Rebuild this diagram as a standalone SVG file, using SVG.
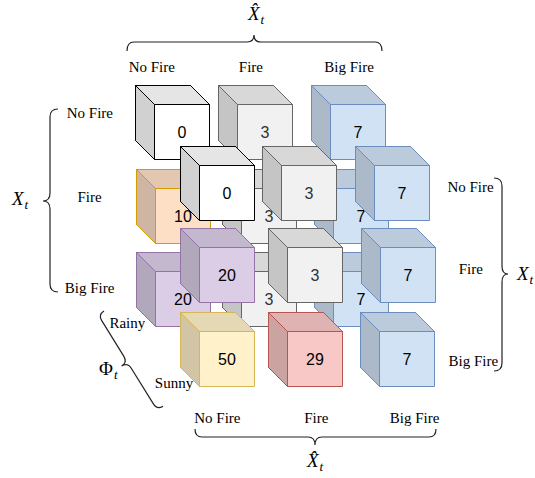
<svg xmlns="http://www.w3.org/2000/svg" xmlns:xlink="http://www.w3.org/1999/xlink" width="535" height="478" viewBox="0 0 535 478">
<style>
.lbl{font-family:"Liberation Serif","Times New Roman",serif;font-size:15px;fill:#000;text-anchor:middle}
.math{font-family:"Liberation Serif","Times New Roman",serif;font-size:19px;font-style:italic;fill:#000}
.math .sub{font-size:13px}
.up{font-style:normal}
.num{font-family:"Liberation Sans",Arial,sans-serif;font-size:16px;text-anchor:middle;fill:#000;stroke:none}
.brace{fill:none;stroke:#222;stroke-width:1.2}
.white{fill:#ffffff;stroke:#000000}
.grey{fill:#f0f1f0;stroke:#666666}
.grey .num{fill:#333333}
.blue{fill:#d2e2f5;stroke:#6c8ebf}
.orange{fill:#fddfc6;stroke:#d79b00}
.purple{fill:#dacde5;stroke:#9673a6}
.yellow{fill:#fff1ca;stroke:#d6b656}
.red{fill:#f8c8c6;stroke:#b85450}
</style>
<defs>
<g id="cube">
<path d="M0,0 H55 L74,19 V74 H19 L0,55 Z"/>
<path d="M0,0 H55 L74,19 H19 Z" fill="#000" fill-opacity="0.1"/>
<path d="M0,0 L19,19 V74 L0,55 Z" fill="#000" fill-opacity="0.18"/>
</g>
</defs>

<g id="back-layer">
<g id="back-nofire-nofire" class="white" transform="translate(135.5,85.5)"><use xlink:href="#cube" href="#cube"/><text class="num" x="46.5" y="52.5">0</text></g>
<g id="back-nofire-fire" class="grey" transform="translate(218.5,85.5)"><use xlink:href="#cube" href="#cube"/><text class="num" x="46.5" y="52.5">3</text></g>
<g id="back-nofire-bigfire" class="blue" transform="translate(311.5,85.5)"><use xlink:href="#cube" href="#cube"/><text class="num" x="46.5" y="52.5">7</text></g>
<g id="back-fire-nofire" class="orange" transform="translate(136.5,169.5)"><use xlink:href="#cube" href="#cube"/><text class="num" x="46.5" y="52.5">10</text></g>
<g id="back-fire-fire" class="grey" transform="translate(222.5,169.5)"><use xlink:href="#cube" href="#cube"/><text class="num" x="46.5" y="52.5">3</text></g>
<g id="back-fire-bigfire" class="blue" transform="translate(314.5,169.5)"><use xlink:href="#cube" href="#cube"/><text class="num" x="46.5" y="52.5">7</text></g>
<g id="back-bigfire-nofire" class="purple" transform="translate(136.5,252.5)"><use xlink:href="#cube" href="#cube"/><text class="num" x="46.5" y="52.5">20</text></g>
<g id="back-bigfire-fire" class="grey" transform="translate(222.5,252.5)"><use xlink:href="#cube" href="#cube"/><text class="num" x="46.5" y="52.5">3</text></g>
<g id="back-bigfire-bigfire" class="blue" transform="translate(314.5,252.5)"><use xlink:href="#cube" href="#cube"/><text class="num" x="46.5" y="52.5">7</text></g>
</g>

<g id="front-layer">
<g id="front-nofire-nofire" class="white" transform="translate(180.5,146.5)"><use xlink:href="#cube" href="#cube"/><text class="num" x="46.5" y="52.5">0</text></g>
<g id="front-nofire-fire" class="grey" transform="translate(262.5,146.5)"><use xlink:href="#cube" href="#cube"/><text class="num" x="46.5" y="52.5">3</text></g>
<g id="front-nofire-bigfire" class="blue" transform="translate(355.5,146.5)"><use xlink:href="#cube" href="#cube"/><text class="num" x="46.5" y="52.5">7</text></g>
<g id="front-fire-nofire" class="purple" transform="translate(180.5,228.5)"><use xlink:href="#cube" href="#cube"/><text class="num" x="46.5" y="52.5">20</text></g>
<g id="front-fire-fire" class="grey" transform="translate(268.5,228.5)"><use xlink:href="#cube" href="#cube"/><text class="num" x="46.5" y="52.5">3</text></g>
<g id="front-fire-bigfire" class="blue" transform="translate(361.5,228.5)"><use xlink:href="#cube" href="#cube"/><text class="num" x="46.5" y="52.5">7</text></g>
<g id="front-bigfire-nofire" class="yellow" transform="translate(180.5,312.5)"><use xlink:href="#cube" href="#cube"/><text class="num" x="46.5" y="52.5">50</text></g>
<g id="front-bigfire-fire" class="red" transform="translate(268.5,312.5)"><use xlink:href="#cube" href="#cube"/><text class="num" x="46.5" y="52.5">29</text></g>
<g id="front-bigfire-bigfire" class="blue" transform="translate(360.5,312.5)"><use xlink:href="#cube" href="#cube"/><text class="num" x="46.5" y="52.5">7</text></g>
</g>

<g id="braces">
<path class="brace" d="M127,51 Q127,42 134,42 H247 Q254,42 254,35 Q254,42 261,42 H375 Q382,42 382,51"/>
<path class="brace" d="M58,109 Q50,109 50,117 V193 Q50,201 43,201 Q50,201 50,209 V284 Q50,292 58,292"/>
<path class="brace" d="M494,178 Q502,178 502,186 V266 Q502,274 508,274 Q502,274 502,282 V363 Q502,371 494,371"/>
<path class="brace" d="M195,429 Q195,437 202,437 H308 Q315,437 315,445 Q315,437 322,437 H429 Q436,437 436,429"/>
<path class="brace" transform="translate(104,311) rotate(58.2)" d="M0,0 Q0,7 7,7 H49 Q56,7 56,14 Q56,7 63,7 H105 Q112,7 112,0"/>
</g>

<g id="labels">
<text class="lbl" x="151.8" y="71.5">No Fire</text>
<text class="lbl" x="250.9" y="71.5">Fire</text>
<text class="lbl" x="349.1" y="71.5">Big Fire</text>
<text class="lbl" x="89.9" y="118.3">No Fire</text>
<text class="lbl" x="89.5" y="201.5">Fire</text>
<text class="lbl" x="89.5" y="292.5">Big Fire</text>
<text class="lbl" x="470.5" y="191.5">No Fire</text>
<text class="lbl" x="470.8" y="274.3">Fire</text>
<text class="lbl" x="473.3" y="365.5">Big Fire</text>
<text class="lbl" x="217.4" y="422.5">No Fire</text>
<text class="lbl" x="316.3" y="422.5">Fire</text>
<text class="lbl" x="414.6" y="422.5">Big Fire</text>
<text class="lbl" x="127.3" y="328">Rainy</text>
<text class="lbl" x="174" y="388">Sunny</text>
<text class="math" x="248" y="19.5">X̂<tspan class="sub" dx="1" dy="4">t</tspan></text>
<text class="math" x="307" y="467">X̂<tspan class="sub" dx="1" dy="4">t</tspan></text>
<text class="math" x="12" y="205">X<tspan class="sub" dx="1" dy="4">t</tspan></text>
<text class="math" x="517" y="280">X<tspan class="sub" dx="1" dy="4">t</tspan></text>
<text class="math" x="99" y="375"><tspan class="up">Φ</tspan><tspan class="sub" dx="1" dy="4">t</tspan></text>
</g>
</svg>
